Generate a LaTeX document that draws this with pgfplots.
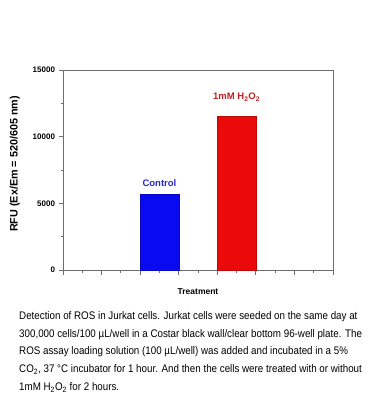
\documentclass[border=0pt]{standalone}
\usepackage{fontspec}
\setmainfont{Liberation Sans}
\newfontfamily\capfont[FakeStretch=0.89]{Liberation Sans}
\usepackage{pgfplots}
\pgfplotsset{compat=1.18}
\definecolor{axgray}{RGB}{110,110,110}
\definecolor{barblue}{RGB}{10,10,240}
\definecolor{barred}{RGB}{235,10,10}
\definecolor{lblblue}{RGB}{40,40,200}
\definecolor{lblred}{RGB}{200,30,30}
\begin{document}
\begin{tikzpicture}
\path[use as bounding box, fill=white] (0,0) rectangle (370pt,-420pt);
\begin{axis}[
  at={(63pt,-270pt)}, anchor=south west,
  scale only axis, width=270pt, height=200pt,
  xmin=0, xmax=7, ymin=0, ymax=15000,
  xtick={0,1,...,7}, xticklabels={},
  minor x tick num=1,
  ytick={0,5000,10000,15000},
  minor y tick num=1,
  scaled y ticks=false,
  /pgf/number format/set thousands separator={},
  /pgf/number format/assume math mode=true,
  tick label style={font=\fontsize{8}{9}\selectfont\bfseries},
  tick align=outside, tick pos=left,
  major tick length=4.5pt, minor tick length=2.5pt,
  axis line style={axgray, line width=0.8pt},
  every tick/.style={axgray, line width=0.8pt},
  ylabel={RFU (Ex/Em = 520/605 nm)},
  ylabel style={font=\fontsize{10.8}{12}\selectfont\bfseries, at={(axis description cs:-0.178,0.53)}, anchor=center},
  xlabel={Treatment},
  xlabel style={font=\fontsize{8.5}{10}\selectfont\bfseries, yshift=-4pt},
  clip=false,
]
\addplot[ybar, bar width=1, fill=barblue, draw=barblue!80!black] coordinates {(2.5,5700)};
\addplot[ybar, bar width=1, fill=barred, draw=barred!80!black] coordinates {(4.5,11500)};
\node[lblblue, font=\fontsize{9.5}{10}\selectfont\bfseries] at (axis cs:2.5,6550) {Control};
\node[lblred, font=\fontsize{9.5}{10}\selectfont\bfseries] at (axis cs:4.5,12950) {1mM H\textsubscript{2}O\textsubscript{2}};
\end{axis}
\node[anchor=north west, align=left, inner sep=0pt, font=\capfont\fontsize{11}{17.9}\selectfont] at (19pt,-311pt) {%
Detection of ROS in Jurkat cells. Jurkat cells were seeded on the same day at\\
300,000 cells/100 µL/well in a Costar black wall/clear bottom 96-well plate. The\\
ROS assay loading solution (100 µL/well) was added and incubated in a 5\%\\
CO\textsubscript{2}, 37 °C incubator for 1 hour. And then the cells were treated with or without\\
1mM H\textsubscript{2}O\textsubscript{2} for 2 hours.};
\end{tikzpicture}
\end{document}
